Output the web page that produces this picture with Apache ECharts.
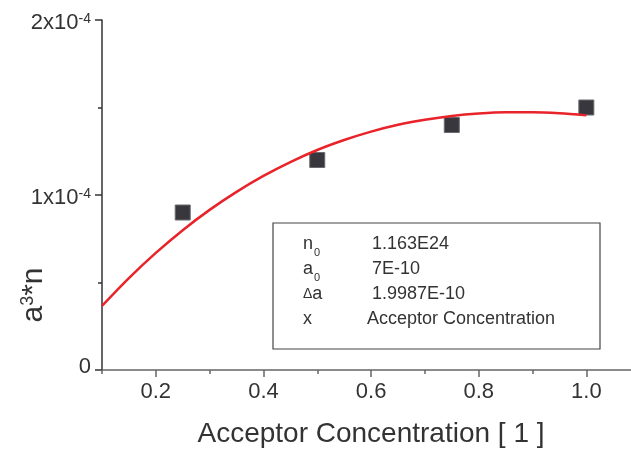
<!DOCTYPE html>
<html>
<head>
<meta charset="utf-8">
<script src="https://cdn.jsdelivr.net/npm/echarts@6/dist/echarts.min.js"></script>
<style>
html,body{margin:0;padding:0;background:#fff;}
#c{width:631px;height:452px;}
</style>
</head>
<body>
<div id="c"></div>
<script>
// ---- data ----
var dataX = [0.25, 0.5, 0.75, 1.0];
var dataY = [0.9e-4, 1.2e-4, 1.4e-4, 1.5e-4];
var fitX = [0.1, 0.15, 0.2, 0.25, 0.3, 0.35, 0.4, 0.45, 0.5, 0.55, 0.6, 0.65, 0.7, 0.75, 0.8, 0.85, 0.9, 0.95, 1.0];
var fitY = [0.366e-4, 0.525e-4, 0.669e-4, 0.799e-4, 0.915e-4, 1.018e-4, 1.109e-4, 1.188e-4, 1.257e-4, 1.314e-4,
            1.362e-4, 1.401e-4, 1.430e-4, 1.452e-4, 1.466e-4, 1.473e-4, 1.473e-4, 1.467e-4, 1.455e-4];
var xMajorTicks = [0.2, 0.4, 0.6, 0.8, 1.0];
var xMinorTicks = [0.1, 0.3, 0.5, 0.7, 0.9];
var xTitle = 'Acceptor Concentration [ 1 ]';
var boxLabels = ['n', 'a', '{d|\u0394}a', 'x'];
var boxSubs = ['0', '0', '', ''];
var boxValues = ['1.163E24', '7E-10', '1.9987E-10', 'Acceptor Concentration'];

var FONT = '"Liberation Sans", Arial, Helvetica, sans-serif';
var TXT = '#333333';

var chart = echarts.init(document.getElementById('c'), null, {renderer: 'canvas'});

function zip(a, b) { return a.map(function (v, i) { return [v, b[i]]; }); }

var graphics = [
  {
    type: 'text', x: 371, y: 434, z: 10,
    style: { text: xTitle, fontSize: 28, fontFamily: FONT, fill: TXT,
             textAlign: 'center', textVerticalAlign: 'middle' }
  },
  {
    type: 'text', x: 34, y: 295, rotation: Math.PI / 2, z: 10,
    style: { text: 'a{sup|3}*n', fontSize: 30, fontFamily: FONT, fill: TXT,
             textAlign: 'center', textVerticalAlign: 'middle',
             rich: { sup: { fontSize: 18, fontFamily: FONT, fill: TXT, verticalAlign: 'top', lineHeight: 18 } } }
  },
  {
    type: 'rect', z: 5,
    shape: { x: 273, y: 223, width: 327, height: 126 },
    style: { fill: '#ffffff', stroke: '#444444', lineWidth: 1.2 }
  }
];
var rowBase = [253, 278, 303, 328];
for (var i = 0; i < boxLabels.length; i++) {
  graphics.push({
    type: 'text', x: 303, y: rowBase[i], z: 10,
    style: { text: boxLabels[i], fontSize: 18, fontFamily: FONT, fill: TXT,
             textAlign: 'left', textVerticalAlign: 'bottom',
             rich: { d: { fontSize: 14, fontFamily: FONT, fill: TXT } } }
  });
  if (boxSubs[i]) {
    graphics.push({
      type: 'text', x: 314, y: rowBase[i] + 5, z: 10,
      style: { text: boxSubs[i], fontSize: 11, fontFamily: FONT, fill: TXT,
               textAlign: 'left', textVerticalAlign: 'bottom' }
    });
  }
  graphics.push({
    type: 'text', x: (i === 3 ? 367 : 372), y: rowBase[i], z: 10,
    style: { text: boxValues[i], fontSize: 18, fontFamily: FONT, fill: TXT,
             textAlign: 'left', textVerticalAlign: 'bottom' }
  });
}

var option = {
  animation: false,
  backgroundColor: '#ffffff',
  grid: { left: 102, right: 0, top: 20, height: 350, containLabel: false },
  xAxis: [
    {
      type: 'value', min: 0.1, max: 1.083, position: 'bottom',
      axisLine: { show: true, onZero: false, lineStyle: { color: '#666666', width: 1.5 } },
      axisTick: { show: true, inside: false, length: 7, customValues: xMajorTicks,
                  lineStyle: { color: '#666666', width: 1.5 } },
      axisLabel: { show: true, customValues: xMajorTicks, margin: 11, fontSize: 22, fontFamily: FONT, color: TXT,
                   formatter: function (v) { return v.toFixed(1); } },
      splitLine: { show: false }
    },
    {
      type: 'value', min: 0.1, max: 1.083, position: 'bottom', offset: 0,
      axisLine: { show: false },
      axisTick: { show: true, inside: false, length: 4, customValues: xMinorTicks,
                  lineStyle: { color: '#666666', width: 1.5 } },
      axisLabel: { show: false },
      splitLine: { show: false }
    }
  ],
  yAxis: {
    type: 'value', min: 0, max: 2e-4, interval: 1e-4,
    axisLine: { show: true, onZero: false, lineStyle: { color: '#333333', width: 1.5 } },
    axisTick: { show: true, inside: false, length: 7, lineStyle: { color: '#333333', width: 1.5 } },
    minorTick: { show: true, splitNumber: 2, length: 4, lineStyle: { color: '#333333', width: 1.5 } },
    splitLine: { show: false },
    minorSplitLine: { show: false },
    axisLabel: {
      margin: 11, fontFamily: FONT, color: TXT,
      formatter: function (v) {
        var k = Math.round(v * 1e4);
        if (k === 0) return '{z|0}';
        return '{m|' + k + 'x10}{s|-4}';
      },
      rich: {
        z: { fontSize: 22, fontFamily: FONT, color: TXT, padding: [0, 0, 6, 0] },
        m: { fontSize: 22, fontFamily: FONT, color: TXT, padding: [6, 0, 0, 0] },
        s: { fontSize: 14, fontFamily: FONT, color: TXT, verticalAlign: 'top', padding: [6, 0, 0, 0] }
      }
    }
  },
  series: [
    {
      type: 'scatter', name: 'data', xAxisIndex: 0, yAxisIndex: 0,
      data: zip(dataX, dataY), symbol: 'rect', symbolSize: 15, z: 3,
      itemStyle: { color: '#38373d', opacity: 1, borderColor: '#6a6a6e', borderWidth: 1 }
    },
    {
      type: 'line', name: 'fit', xAxisIndex: 0, yAxisIndex: 0,
      data: zip(fitX, fitY), smooth: 0.3, showSymbol: false, symbol: 'none', z: 4,
      lineStyle: { color: '#e8232a', width: 2.5 }
    }
  ],
  graphic: graphics
};
chart.setOption(option);
</script>
</body>
</html>
